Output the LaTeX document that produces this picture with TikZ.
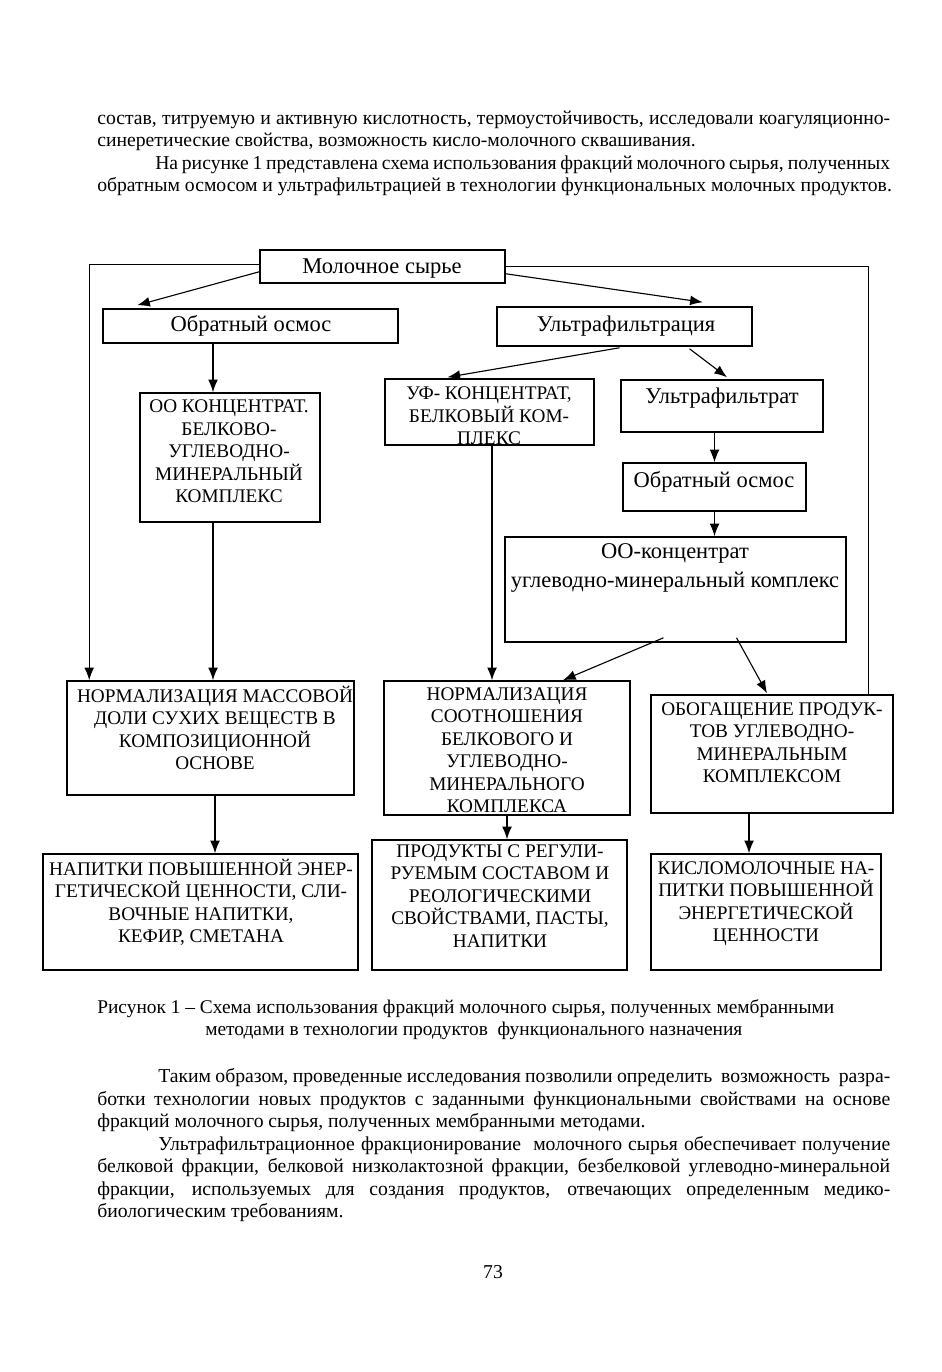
\documentclass[tikz,border=0pt]{standalone}
\usepackage{fontspec}
\setmainfont{Liberation Serif}
\usetikzlibrary{positioning}
\usetikzlibrary{calc}
\usetikzlibrary{fit}
\usetikzlibrary{arrows.meta}
\newlength{\pxu}
\setlength{\pxu}{0.25mm}
\newcommand{\bodyfont}{\fontsize{14}{16}\selectfont}
\newcommand{\captfont}{\fontsize{13.8}{16}\selectfont}
\newcommand{\capsfont}{\fontsize{13.7}{16}\selectfont}
\newcommand{\boxfont}{\fontsize{16}{20}\selectfont}

\begin{document}
\begin{tikzpicture}[x=0.25mm,y=-0.25mm,
  box/.style={draw, line width=1.1pt, inner sep=0pt},
  boxtext/.style={anchor=base, align=center, inner sep=0pt, font=\capsfont},
  boxlabel/.style={anchor=base, align=center, inner sep=0pt, font=\boxfont},
  link/.style={-{Latex[length=9pt,width=7pt]}, line width=0.8pt},
  txtline/.style={anchor=base west, inner sep=0pt, font=\bodyfont}]

\useasboundingbox (0,0) rectangle (941,1372);

%---------------------------------------
% Text above the scheme
%---------------------------------------
\node[txtline] (t1) at (97,124.5) {\makebox[793\pxu][s]{состав, титруемую и активную кислотность, термоустойчивость, исследовали коагуляционно-}};
\node[txtline] (t2) at (97,147) {синеретические свойства, возможность кисло-молочного сквашивания.};
\node[txtline] (t3) at (155,169.5) {\makebox[735\pxu][s]{На рисунке 1 представлена схема использования фракций молочного сырья, полученных}};
\node[txtline] (t4) at (97,192) {обратным осмосом и ультрафильтрацией в технологии функциональных молочных продуктов.};

%---------------------------------------
% Boxes
%---------------------------------------
\node[box, fit={(260,250) (505,283)}] (milk) {};
\node[box, fit={(103,309) (398,343)}] (ro1) {};
\node[box, fit={(497,307) (752,346)}] (uf) {};

\node[box, fit={(140,393) (320,522)}] (ook) {};
\node[box, fit={(385,379) (594,445)}] (ufk) {};
\node[box, fit={(621,380) (823,432)}] (uft) {};
\node[box, fit={(623,463) (806,511)}] (ro2) {};
\node[box, fit={(505,537) (846,642)}] (ooc) {};

\node[box, fit={(67,681) (354,795)}] (nms) {};
\node[box, fit={(384,681) (630,815)}] (nso) {};
\node[box, fit={(651,695) (893,813)}] (enr) {};

\node[box, fit={(43,854) (358,970)}] (nap) {};
\node[box, fit={(372,840) (627,970)}] (prd) {};
\node[box, fit={(651,854) (881,970)}] (kis) {};

% texts in the boxes (placed by the baseline of the last line)
\node[boxlabel] (milkT) at (382,273) {Молочное сырье};
\node[boxlabel] (ro1T) at (251,331) {Обратный осмос};
\node[boxlabel] (ufT) at (626,331) {Ультрафильтрация};
\node[boxtext] (ookT) at (229,502.5) {ОО КОНЦЕНТРАТ.\\БЕЛКОВО-\\УГЛЕВОДНО-\\МИНЕРАЛЬНЫЙ\\КОМПЛЕКС};
\node[boxtext] (ufkT) at (489,444.5) {УФ- КОНЦЕНТРАТ,\\БЕЛКОВЫЙ КОМ-\\ПЛЕКС};
\node[boxlabel] (uftT) at (722,403) {Ультрафильтрат};
\node[boxlabel] (ro2T) at (714,487) {Обратный осмос};
\node[boxlabel] (oocT) at (675,587) {ОО-концентрат\\углеводно-минеральный комплекс};
\node[boxtext] (nmsT) at (215,769.5) {НОРМАЛИЗАЦИЯ МАССОВОЙ\\ДОЛИ СУХИХ ВЕЩЕСТВ В\\КОМПОЗИЦИОННОЙ\\ОСНОВЕ};
\node[boxtext] (nsoT) at (507,812.5) {НОРМАЛИЗАЦИЯ\\СООТНОШЕНИЯ\\БЕЛКОВОГО И\\УГЛЕВОДНО-\\МИНЕРАЛЬНОГО\\КОМПЛЕКСА};
\node[boxtext] (enrT) at (772,782.5) {ОБОГАЩЕНИЕ ПРОДУК-\\ТОВ УГЛЕВОДНО-\\МИНЕРАЛЬНЫМ\\КОМПЛЕКСОМ};
\node[boxtext] (napT) at (201,942.5) {НАПИТКИ ПОВЫШЕННОЙ ЭНЕР-\\ГЕТИЧЕСКОЙ ЦЕННОСТИ, СЛИ-\\ВОЧНЫЕ НАПИТКИ,\\КЕФИР, СМЕТАНА};
\node[boxtext] (prdT) at (500,947) {ПРОДУКТЫ С РЕГУЛИ-\\РУЕМЫМ СОСТАВОМ И\\РЕОЛОГИЧЕСКИМИ\\СВОЙСТВАМИ, ПАСТЫ,\\НАПИТКИ};
\node[boxtext] (kisT) at (766,941.5) {КИСЛОМОЛОЧНЫЕ НА-\\ПИТКИ ПОВЫШЕННОЙ\\ЭНЕРГЕТИЧЕСКОЙ\\ЦЕННОСТИ};

%---------------------------------------
% Connectors
%---------------------------------------
\coordinate (xa) at (213,0);
\coordinate (xb) at (492,0);
\coordinate (xc) at (215,0);
\coordinate (xd) at (749,0);

\draw[link] ($(milk.west)+(0,-2)$) -| ($(nms.north west)+(23,0)$);
\draw[line width=0.8pt] (milk.east) -| ($(enr.north east)+(-25,0)$);

\draw[link] ($(milk.south west)+(0,-12)$) -- ($(ro1.north west)+(35,-3)$);
\draw[link] ($(milk.south east)+(0,-10)$) -- ($(uf.north east)+(-50,-4)$);

\draw[link] (ro1.south -| xa) -- (ook.north -| xa);
\draw[link] ($(uf.south)+(-5,1)$) -- ($(ufk.north)+(-42,-1)$);
\draw[link] ($(uf.south)+(65,2)$) -- ($(uft.north)+(5,-2)$);
\draw[link] (ro2.north |- uft.south) -- (ro2.north);
\draw[link] (ro2.south) -- (ro2.south |- ooc.north);

\draw[link] (ook.south -| xa) -- (nms.north -| xa);
\draw[link] (ufk.south -| xb) -- (nso.north -| xb);
\draw[link] ($(ooc.south)+(-12,-5)$) -- ($(nso.north)+(56,0)$);
\draw[link] ($(ooc.south)+(61,-5)$) -- ($(enr.north)+(-5,-1)$);

\draw[link] (nms.south -| xc) -- (nap.north -| xc);
\draw[link] (nso.south) -- (nso.south |- prd.north);
\draw[link] (enr.south -| xd) -- (kis.north -| xd);

%---------------------------------------
% Caption and text below
%---------------------------------------
\node[txtline, font=\captfont] (c1) at (97,1013) {Рисунок 1 – Схема использования фракций молочного сырья, полученных мембранными};
\node[txtline, font=\captfont] (c2) at (205,1035) {методами в технологии продуктов \ функционального назначения};

\node[txtline] (t5) at (158,1082) {\makebox[732\pxu][s]{Таким образом, проведенные исследования позволили определить \ возможность \ разра-}};
\node[txtline] (t6) at (97,1105) {\makebox[793\pxu][s]{ботки технологии новых продуктов с заданными функциональными свойствами на основе}};
\node[txtline] (t7) at (97,1127) {фракций молочного сырья, полученных мембранными методами.};
\node[txtline] (t8) at (158,1150) {\makebox[732\pxu][s]{Ультрафильтрационное фракционирование \ молочного сырья обеспечивает получение}};
\node[txtline] (t9) at (97,1172) {\makebox[793\pxu][s]{белковой фракции, белковой низколактозной фракции, безбелковой углеводно-минеральной}};
\node[txtline] (t10) at (97,1195) {\makebox[793\pxu][s]{фракции, используемых для создания продуктов, отвечающих определенным медико-}};
\node[txtline] (t11) at (97,1217) {биологическим требованиям.};

\node[anchor=base, inner sep=0pt, font=\bodyfont] (pg) at (493,1278) {73};

\end{tikzpicture}
\end{document}
